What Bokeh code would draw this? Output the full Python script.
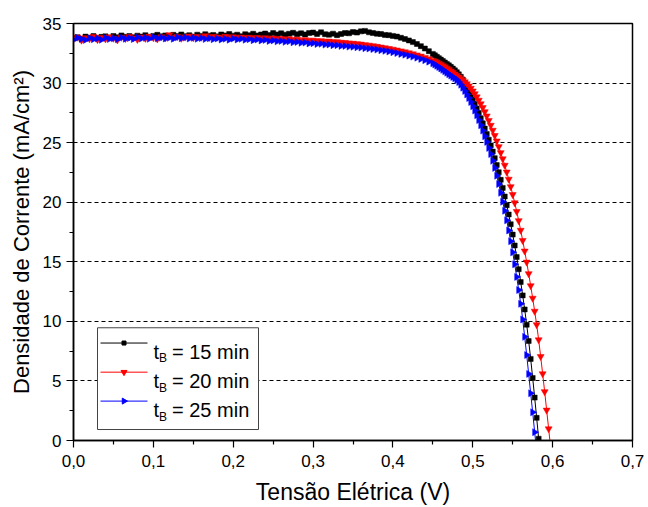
import math
from bokeh.plotting import figure
from bokeh.models import Range1d, FixedTicker
from bokeh.embed import file_html
from bokeh.resources import INLINE
from bokeh.core.properties import value

# ---------------- data ----------------
voltage = [
    0.000, 0.005, 0.010, 0.015, 0.020, 0.025, 0.030, 0.035, 0.040, 0.045,
    0.050, 0.055, 0.060, 0.065, 0.070, 0.075, 0.080, 0.085, 0.090, 0.095,
    0.100, 0.105, 0.110, 0.115, 0.120, 0.125, 0.130, 0.135, 0.140, 0.145,
    0.150, 0.155, 0.160, 0.165, 0.170, 0.175, 0.180, 0.185, 0.190, 0.195,
    0.200, 0.205, 0.210, 0.215, 0.220, 0.225, 0.230, 0.235, 0.240, 0.245,
    0.250, 0.255, 0.260, 0.265, 0.270, 0.275, 0.280, 0.285, 0.290, 0.295,
    0.300, 0.305, 0.310, 0.315, 0.320, 0.325, 0.330, 0.335, 0.340, 0.345,
    0.350, 0.355, 0.360, 0.365, 0.370, 0.375, 0.380, 0.385, 0.390, 0.395,
    0.400, 0.405, 0.410, 0.415, 0.420, 0.425, 0.430, 0.435, 0.440, 0.445,
    0.4500, 0.4525, 0.4550, 0.4575, 0.4600, 0.4625, 0.4650, 0.4675, 0.4700, 0.4725,
    0.4750, 0.4775, 0.4800, 0.4825, 0.4850, 0.4875, 0.4900, 0.4925, 0.4950, 0.4975,
    0.5000, 0.5025, 0.5050, 0.5075, 0.5100, 0.5125, 0.5150, 0.5175, 0.5200, 0.5225,
    0.5250, 0.5275, 0.5300, 0.5325, 0.5350, 0.5375, 0.5400, 0.5425, 0.5450, 0.5475,
    0.5500, 0.5525, 0.5550, 0.5575, 0.5600, 0.5625, 0.5650, 0.5675, 0.5700, 0.5725,
    0.5750, 0.5775, 0.5800, 0.5825, 0.5850, 0.5875, 0.5900, 0.5925, 0.5950, 0.5975,
    0.6000,
]

j_15min = [
    33.75, 33.85, 33.70, 33.90, 33.80, 33.95, 33.78, 33.88, 33.92, 33.80,
    33.95, 33.85, 34.00, 33.88, 33.95, 33.84, 33.98, 33.90, 34.02, 33.88,
    33.96, 34.05, 33.92, 34.00, 33.90, 34.05, 33.95, 34.08, 33.94, 34.02,
    33.90, 34.06, 33.96, 34.10, 33.98, 34.04, 33.92, 34.08, 34.00, 34.12,
    33.98, 34.06, 33.94, 34.10, 34.02, 34.14, 34.00, 34.08, 34.16, 34.04,
    34.20, 34.08, 34.18, 34.06, 34.14, 34.22, 34.10, 34.18, 34.08, 34.20,
    34.24, 34.12, 34.26, 34.10, 34.06, 34.15, 34.02, 34.12, 34.20, 34.18,
    34.28, 34.24, 34.34, 34.38, 34.26, 34.20, 34.14, 34.12, 34.04, 34.02,
    33.96, 33.90, 33.80, 33.70, 33.58, 33.44, 33.28, 33.10, 32.90, 32.68,
    32.45, 32.33, 32.21, 32.09, 31.97, 31.85, 31.73, 31.61, 31.49, 31.36,
    31.22, 31.07, 30.91, 30.73, 30.53, 30.28, 30.00, 29.67, 29.33, 28.98,
    28.62, 28.25, 27.87, 27.48, 27.05, 26.62, 26.18, 25.72, 25.25, 24.77,
    24.25, 23.70, 23.12, 22.52, 21.88, 21.20, 20.48, 19.75, 18.97, 18.15,
    17.28, 16.37, 15.40, 14.38, 13.30, 12.18, 11.00, 9.72, 8.35, 6.85,
    5.25, 3.60, 1.90, 0.15,
]

j_20min = [
    33.70, 33.85, 33.60, 33.80, 33.72, 33.90, 33.65, 33.82, 33.70, 33.88,
    33.76, 33.62, 33.84, 33.74, 33.90, 33.78, 33.66, 33.86, 33.75, 33.92,
    33.80, 33.70, 33.88, 33.78, 34.05, 33.82, 33.90, 33.76, 33.86, 33.94,
    33.80, 33.90, 33.84, 33.96, 33.82, 33.90, 33.86, 33.80, 33.92, 33.84,
    33.88, 33.80, 33.86, 33.78, 33.84, 33.76, 33.82, 33.74, 33.80, 33.72,
    33.78, 33.70, 33.74, 33.66, 33.72, 33.64, 33.68, 33.60, 33.64, 33.58,
    33.60, 33.54, 33.56, 33.50, 33.52, 33.46, 33.47, 33.42, 33.40, 33.36,
    33.34, 33.30, 33.27, 33.22, 33.18, 33.13, 33.08, 33.02, 32.96, 32.90,
    32.84, 32.77, 32.70, 32.62, 32.54, 32.45, 32.36, 32.26, 32.15, 32.03,
    31.90, 31.82, 31.74, 31.65, 31.56, 31.46, 31.36, 31.25, 31.14, 31.02,
    30.90, 30.77, 30.63, 30.50, 30.37, 30.24, 30.10, 29.94, 29.76, 29.56,
    29.34, 29.10, 28.84, 28.56, 28.26, 27.94, 27.60, 27.24, 26.86, 26.46,
    26.04, 25.60, 25.14, 24.66, 24.16, 23.64, 23.10, 22.53, 21.93, 21.30,
    20.64, 19.95, 19.22, 18.45, 17.64, 16.79, 15.90, 14.97, 14.00, 12.99,
    11.94, 10.85, 9.72, 8.45, 7.05, 5.60, 4.10, 2.55, 0.98, -0.60,
]

j_25min = [
    33.65, 33.80, 33.70, 33.62, 33.78, 33.68, 33.75, 33.64, 33.80, 33.70,
    33.76, 33.68, 33.82, 33.72, 33.78, 33.70, 33.84, 33.74, 33.80, 33.72,
    33.86, 33.76, 33.82, 33.74, 33.80, 33.72, 33.84, 33.76, 33.82, 33.74,
    33.80, 33.72, 33.78, 33.70, 33.76, 33.68, 33.74, 33.66, 33.72, 33.64,
    33.74, 33.66, 33.72, 33.64, 33.68, 33.60, 33.66, 33.58, 33.62, 33.54,
    33.58, 33.50, 33.54, 33.46, 33.50, 33.42, 33.45, 33.38, 33.40, 33.33,
    33.35, 33.28, 33.30, 33.23, 33.24, 33.18, 33.18, 33.12, 33.12, 33.06,
    33.05, 33.00, 32.98, 32.93, 32.90, 32.85, 32.81, 32.76, 32.71, 32.65,
    32.59, 32.52, 32.45, 32.38, 32.30, 32.22, 32.13, 32.03, 31.92, 31.80,
    31.66, 31.56, 31.45, 31.34, 31.23, 31.11, 30.99, 30.87, 30.75, 30.63,
    30.51, 30.40, 30.26, 30.08, 29.86, 29.61, 29.34, 29.05, 28.74, 28.41,
    28.06, 27.69, 27.30, 26.89, 26.46, 26.01, 25.54, 25.06, 24.56, 24.04,
    23.48, 22.88, 22.22, 21.52, 20.79, 20.04, 19.28, 18.48, 17.63, 16.73,
    15.79, 14.79, 13.73, 12.63, 11.47, 10.16, 8.70, 7.17, 5.59, 3.96,
    2.37, 0.70, -0.95,
]

series_times = ["15 min", "20 min", "25 min"]
x_ticks = [0.0, 0.1, 0.2, 0.3, 0.4, 0.5, 0.6, 0.7]
x_tick_labels = ["0,0", "0,1", "0,2", "0,3", "0,4", "0,5", "0,6", "0,7"]
x_minor = [0.05, 0.15, 0.25, 0.35, 0.45, 0.55, 0.65]
y_ticks = [0, 5, 10, 15, 20, 25, 30, 35]
y_minor = [2.5, 7.5, 12.5, 17.5, 22.5, 27.5, 32.5]
y_grid = [5, 10, 15, 20, 25, 30]

# ---------------- figure ----------------
FONT = "Liberation Sans"
FW, FH = 559, 418  # frame size in px

p = figure(width=648, height=507, output_backend="svg", toolbar_location=None,
           x_range=Range1d(0, 0.7), y_range=Range1d(0, 35),
           min_border_left=73, min_border_right=16, min_border_top=23,
           min_border_bottom=66)
p.background_fill_color = "white"
p.border_fill_color = "white"
p.outline_line_color = "black"
p.outline_line_width = 1.5

for ax in (p.xaxis[0], p.yaxis[0]):
    ax.axis_line_color = "black"
    ax.axis_line_width = 1.5
    ax.major_tick_line_color = "black"
    ax.major_tick_line_width = 1.2
    ax.minor_tick_line_color = "black"
    ax.minor_tick_line_width = 1.2
    ax.major_tick_out = 7
    ax.major_tick_in = 0
    ax.minor_tick_out = 4
    ax.minor_tick_in = 0
    ax.major_label_text_font = FONT
    ax.major_label_text_font_size = "17px"
    ax.major_label_text_color = "black"
    ax.axis_label_text_font = FONT
    ax.axis_label_text_font_style = "normal"
    ax.axis_label_text_color = "black"

p.xaxis.axis_label_text_font_size = "23px"
p.yaxis.axis_label_text_font_size = "22px"
p.xaxis.ticker = FixedTicker(ticks=x_ticks, minor_ticks=x_minor)
p.xaxis.major_label_overrides = dict(zip(x_ticks, x_tick_labels))
p.yaxis.ticker = FixedTicker(ticks=y_ticks, minor_ticks=y_minor)
p.xaxis.axis_label = "Tensão Elétrica (V)"
p.yaxis.axis_label = "Densidade de Corrente (mA/cm²)"
p.xaxis.major_label_standoff = 7
p.yaxis.major_label_standoff = 5
p.xaxis.axis_label_standoff = 9
p.yaxis.axis_label_standoff = 6

p.xgrid.visible = False
p.ygrid.ticker = FixedTicker(ticks=y_grid)
p.ygrid.grid_line_color = "black"
p.ygrid.grid_line_dash = "4 3"
p.ygrid.grid_line_width = 1

# ---------------- curves ----------------
styles = [
    (j_15min, "black", "square", 5, 0.0),
    (j_20min, "red", "inverted_triangle", 7, 0.0),
    (j_25min, "blue", "triangle", 7, -math.pi / 2),
]
for j, color, marker, size, angle in styles:
    v = voltage[:len(j)]
    p.line(v, j, line_color=color, line_width=1)
    p.scatter(v, j, marker=marker, size=size, angle=angle,
              fill_color=color, line_color=color, line_width=0.5)

# ---------------- legend (pixel coordinates in frame) ----------------
p.extra_x_ranges = {"lx": Range1d(0, FW)}
p.extra_y_ranges = {"ly": Range1d(0, FH)}
p.quad(left=[24], right=[185], bottom=[11], top=[113], fill_color="white",
       line_color="#444444", line_width=1, x_range_name="lx", y_range_name="ly")
row_y = [97.7, 68.5, 39.5]
for (j, color, marker, size, angle), ry, t in zip(styles, row_y, series_times):
    p.line([27, 74], [ry, ry], line_color=color, line_width=1,
           x_range_name="lx", y_range_name="ly")
    p.scatter([50.5], [ry], marker=marker, size=size - 1, angle=angle,
              fill_color=color, line_color=color,
              x_range_name="lx", y_range_name="ly")
    p.text([80], [ry - 8.5], text=["t"], text_font=value(FONT),
           text_font_size="20px", text_baseline="alphabetic", text_color="black",
           x_range_name="lx", y_range_name="ly")
    p.text([85.5], [ry - 15.5], text=["B"], text_font=value(FONT),
           text_font_size="12px", text_baseline="alphabetic", text_color="black",
           x_range_name="lx", y_range_name="ly")
    p.text([98.5], [ry - 8.5], text=["= " + t], text_font=value(FONT),
           text_font_size="20px", text_baseline="alphabetic", text_color="black",
           x_range_name="lx", y_range_name="ly")

open("out.html", "w").write(file_html(p, INLINE))
